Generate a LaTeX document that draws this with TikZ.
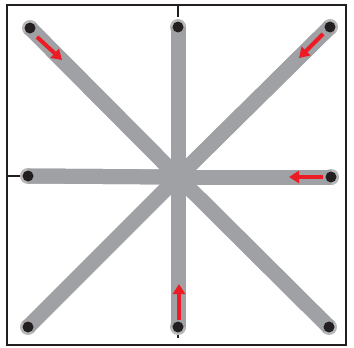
\documentclass[tikz,border=0pt]{standalone}
\usetikzlibrary{arrows.meta}
\definecolor{bargray}{HTML}{A0A1A5}
\definecolor{dotblack}{HTML}{231F20}
\definecolor{arrred}{HTML}{ED1C24}
\begin{document}
\begin{tikzpicture}[x=1pt,y=-1pt,
  bar/.style={draw=bargray,line width=15pt,line cap=round},
  enddot/.style={circle,fill=dotblack,inner sep=0pt,minimum size=11pt},
  rim/.style={circle,fill=bargray!75,inner sep=0pt,minimum size=16pt},
  frameline/.style={draw=dotblack,line width=2pt},
  tick/.style={draw=dotblack,line width=2pt},
  flow/.style={draw=arrred,line width=4pt,-{Triangle[width=12pt,length=10pt]}}]
\useasboundingbox (0,0) rectangle (354,348);
\fill[white] (0,0) rectangle (354,348);
% frame
\draw[frameline] (6.5,4.5) rectangle (346,345);
% ticks
\coordinate (ttop0) at (178,4.5);
\coordinate (ttop1) at (178,17);
\coordinate (tleft0) at (6.5,176);
\coordinate (tleft1) at (20,176);
\coordinate (tbot0) at (178,333);
\coordinate (tbot1) at (178,338);
\draw[tick] (ttop0) -- (ttop1);
\draw[tick] (tleft0) -- (tleft1);
\draw[tick,line width=1.5pt] (tbot0) -- (tbot1);
% positions
\coordinate (c) at (178,177);
\coordinate (ptl) at (30,28);
\coordinate (pt) at (178,27);
\coordinate (ptr) at (330,27);
\coordinate (pl) at (28,176);
\coordinate (pr) at (331,177);
\coordinate (pbl) at (28,327);
\coordinate (pb) at (178,327);
\coordinate (pbr) at (329,327);
% bars
\foreach \p in {ptl,pt,ptr,pl,pr,pbl,pb,pbr}{
  \draw[bar] (c) -- (\p);
}
% rims
\foreach \p in {ptl,pt,ptr,pl,pr,pbl,pb,pbr}{
  \node[rim] at (\p) {};
}
% bars again over rims (keep rim only at end)
\foreach \p in {ptl,pt,ptr,pl,pr,pbl,pb,pbr}{
  \draw[draw=bargray,line width=15pt] (c) -- (\p);
}
% dots
\node[enddot] (tl) at (ptl) {};
\node[enddot] (t) at (pt) {};
\node[enddot] (tr) at (ptr) {};
\node[enddot] (l) at (pl) {};
\node[enddot] (r) at (pr) {};
\node[enddot] (bl) at (pbl) {};
\node[enddot] (b) at (pb) {};
\node[enddot] (br) at (pbr) {};
% red arrows
\coordinate (a1s) at (37,37);
\coordinate (a1e) at (62,60);
\coordinate (a2s) at (323,34);
\coordinate (a2e) at (299,58);
\coordinate (a3s) at (323,177);
\coordinate (a3e) at (289,177);
\coordinate (a4s) at (179,320);
\coordinate (a4e) at (179,284);
\draw[flow] (a1s) -- (a1e);
\draw[flow] (a2s) -- (a2e);
\draw[flow] (a3s) -- (a3e);
\draw[flow] (a4s) -- (a4e);
\end{tikzpicture}
\end{document}
